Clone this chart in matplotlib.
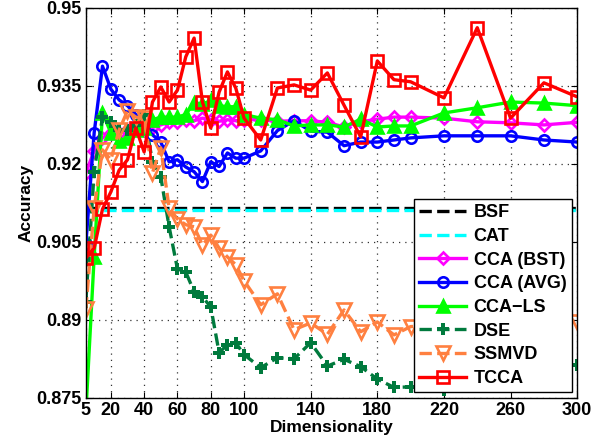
import matplotlib
matplotlib.use("Agg")
import matplotlib.pyplot as plt

plt.rcParams['font.family'] = ['Liberation Sans', 'DejaVu Sans']
plt.rcParams['font.weight'] = 'bold'

# dimensionality grid: step 5 up to 100, then 10 up to 200, then 20 up to 300
dims = [5, 10, 15, 20, 25, 30, 35, 40, 45, 50, 55, 60, 65, 70, 75, 80, 85, 90, 95, 100,
        110, 120, 130, 140, 150, 160, 170, 180, 190, 200,
        220, 240, 260, 280, 300]

bsf = 0.9115
cat = 0.9111

cca_bst = [0.9183, 0.9225, 0.9250, 0.9260, 0.9260, 0.9265, 0.9270, 0.9265, 0.9270, 0.9275,
           0.9280, 0.9280, 0.9285, 0.9283, 0.9288, 0.9285, 0.9282, 0.9285, 0.9283, 0.9285,
           0.9285, 0.9282, 0.9283, 0.9283, 0.9280, 0.9271, 0.9281, 0.9286, 0.9290, 0.9290,
           0.9288, 0.9281, 0.9279, 0.9275, 0.9280]

cca_avg = [0.9045, 0.9260, 0.9388, 0.9344, 0.9323, 0.9312, 0.9295, 0.9272, 0.9256, 0.9242,
           0.9204, 0.9208, 0.9194, 0.9185, 0.9166, 0.9204, 0.9195, 0.9221, 0.9211, 0.9211,
           0.9225, 0.9264, 0.9283, 0.9263, 0.9261, 0.9235, 0.9242, 0.9242, 0.9246, 0.9250,
           0.9254, 0.9254, 0.9254, 0.9246, 0.9242]

cca_ls = [0.8720, 0.9021, 0.9298, 0.9260, 0.9245, 0.9250, 0.9265, 0.9270, 0.9285, 0.9290,
          0.9290, 0.9290, 0.9295, 0.9318, 0.9315, 0.9322, 0.9312, 0.9310, 0.9310, 0.9295,
          0.9288, 0.9285, 0.9273, 0.9275, 0.9275, 0.9271, 0.9286, 0.9271, 0.9273, 0.9273,
          0.9298, 0.9308, 0.9319, 0.9317, 0.9312]

dse = [0.8935, 0.9185, 0.9290, 0.9280, 0.9265, 0.9265, 0.9275, 0.9295, 0.9204, 0.9175,
       0.9079, 0.8998, 0.8992, 0.8954, 0.8944, 0.8925, 0.8837, 0.8852, 0.8856, 0.8833,
       0.8808, 0.8827, 0.8825, 0.8856, 0.8811, 0.8824, 0.8810, 0.8786, 0.8770, 0.8771,
       0.8765, 0.8780, 0.8790, 0.8800, 0.8813]

ssmvd = [0.8920, 0.9115, 0.9227, 0.9208, 0.9265, 0.9302, 0.9290, 0.9288, 0.9183, 0.9231,
         0.9115, 0.9094, 0.9083, 0.9079, 0.9044, 0.9063, 0.9038, 0.9021, 0.9006, 0.8975,
         0.8929, 0.8950, 0.8881, 0.8894, 0.8872, 0.8919, 0.8877, 0.8896, 0.8871, 0.8887,
         0.8890, 0.8885, 0.8890, 0.8888, 0.8896]

tcca = [0.9019, 0.9038, 0.9113, 0.9146, 0.9188, 0.9208, 0.9269, 0.9223, 0.9319, 0.9348,
        0.9319, 0.9342, 0.9406, 0.9442, 0.9319, 0.9269, 0.9338, 0.9377, 0.9346, 0.9288,
        0.9246, 0.9346, 0.9352, 0.9342, 0.9375, 0.9313, 0.9252, 0.9398, 0.9362, 0.9358,
        0.9327, 0.9462, 0.9288, 0.9356, 0.9329]

fig = plt.figure(figsize=(5.92, 4.42), dpi=100)
ax = fig.add_axes([0.145, 0.1, 0.83, 0.882])

lw = 2.4
mew = 1.9
ax.plot(dims, [bsf] * len(dims), '--', color='black', lw=lw, label='BSF')
ax.plot(dims, [cat] * len(dims), '--', color='#00FFFF', lw=lw, label='CAT')
ax.plot(dims, cca_bst, '-', color='#FF00FF', lw=lw, marker='D', ms=6.5, mew=mew,
        mfc='none', label='CCA (BST)')
ax.plot(dims, cca_avg, '-', color='#0000FF', lw=lw, marker='o', ms=7.5, mew=mew,
        mfc='none', label='CCA (AVG)')
ax.plot(dims, cca_ls, '-', color='#00FF00', lw=lw, marker='^', ms=9, mew=mew,
        mfc='#00FF00', label='CCA\u2212LS')
ax.plot(dims, dse, '--', color='#007A3D', lw=lw, marker='P', ms=8, mew=0,
        mfc='#007A3D', label='DSE')
ax.plot(dims, ssmvd, '--', color='#FF8040', lw=lw, marker='v', ms=9.5, mew=mew,
        mfc='none', label='SSMVD')
ax.plot(dims, tcca, '-', color='#FF0000', lw=lw, marker='s', ms=8.5, mew=mew,
        mfc='none', label='TCCA')

ax.set_xlim(5, 300)
ax.set_ylim(0.875, 0.95)
ax.set_xticks([5, 20, 40, 60, 80, 100, 140, 180, 220, 260, 300])
ax.set_yticks([0.875, 0.89, 0.905, 0.92, 0.935, 0.95])
ax.set_yticklabels(['0.875', '0.89', '0.905', '0.92', '0.935', '0.95'])
ax.tick_params(direction='in', top=True, right=True, labelsize=13, length=4, pad=3)
ax.grid(True, linestyle=(0, (1, 4)), color='#333333', lw=0.9)
for sp in ax.spines.values():
    sp.set_linewidth(1.0)

ax.set_xlabel('Dimensionality', fontsize=12.5, fontweight='bold', labelpad=1)
ax.set_ylabel('Accuracy', fontsize=12.5, fontweight='bold', labelpad=2)

leg = ax.legend(loc='lower right', fontsize=13, handlelength=2.6, handletextpad=0.4,
                labelspacing=0.37, borderpad=0.3, borderaxespad=0.3, fancybox=False,
                framealpha=1, edgecolor='black')
leg.get_frame().set_linewidth(1.0)

fig.savefig('out.png', dpi=100)
